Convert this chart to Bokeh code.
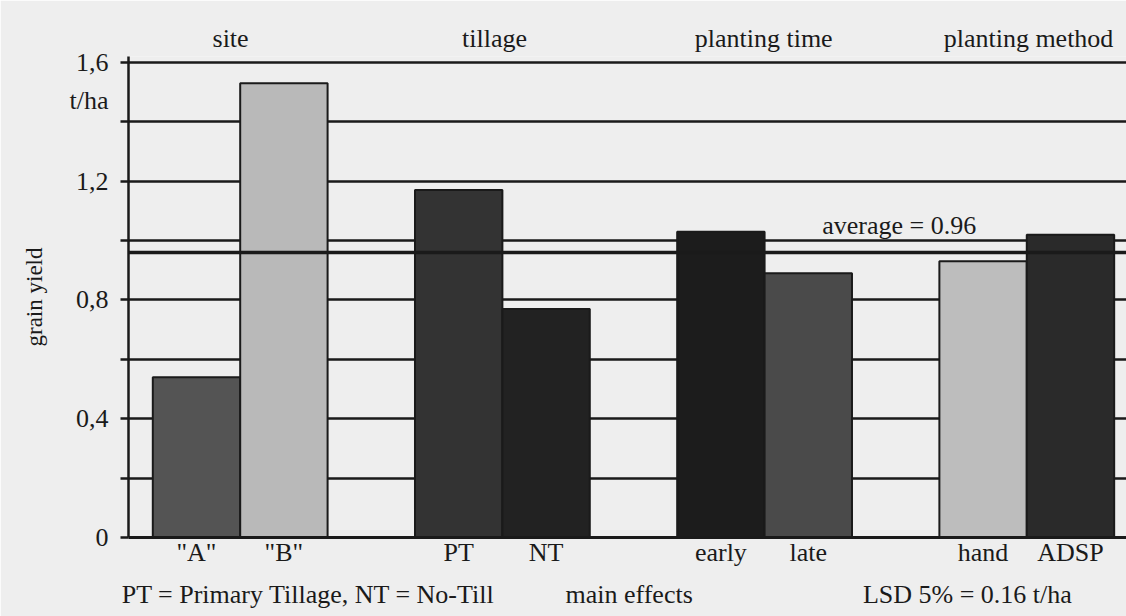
from bokeh.plotting import figure
from bokeh.models import FixedTicker, Span, Label, ColumnDataSource, Range1d, LinearAxis
from bokeh.embed import file_html
from bokeh.resources import INLINE

# ---- data ----
categories = ['"A"', '"B"', "PT", "NT", "early", "late", "hand", "ADSP"]
positions = [0, 1, 3, 4, 6, 7, 9, 10]
yields = [0.54, 1.53, 1.17, 0.77, 1.03, 0.89, 0.93, 1.02]
bar_colors = ["#545454", "#b9b9b9", "#333333", "#222222", "#1c1c1c", "#4a4a4a", "#bdbdbd", "#2a2a2a"]
groups = ["site", "tillage", "planting time", "planting method"]
group_label_x = [0.39, 3.41, 6.49, 9.52]
notes = ["PT = Primary Tillage, NT = No-Till", "main effects", "LSD 5% = 0.16 t/ha"]
note_x = [1.28, 4.95, 8.82]
average = 0.96
y_ticks = [0, 0.2, 0.4, 0.6, 0.8, 1.0, 1.2, 1.4, 1.6]
y_label_ticks = [0, 0.4, 0.8, 1.2, 1.6]
y_label_text = ["0", "0,4", "0,8", "1,2", "1,6"]
unit_label = "t/ha"
unit_y = 1.472

FONT = "Liberation Serif"
BG = "#eeeeee"
INK = "#1a1a1a"
FS = "26px"

p = figure(width=1126, height=616, output_backend="svg", toolbar_location=None,
           x_range=Range1d(-0.778, 10.641), y_range=Range1d(0, 1.62),
           min_border_left=128, min_border_right=0, min_border_top=56, min_border_bottom=79)
p.background_fill_color = BG
p.border_fill_color = BG
p.outline_line_color = None

# grid
p.xgrid.visible = False
p.ygrid.ticker = FixedTicker(ticks=y_ticks)
p.ygrid.grid_line_color = INK
p.ygrid.grid_line_width = 2.5

src = ColumnDataSource(dict(x=positions, top=yields, color=bar_colors))
p.vbar(x="x", top="top", width=1.0, bottom=0, fill_color="color", line_color=INK, line_width=2, source=src)

p.add_layout(Span(location=average, dimension="width", line_color=INK, line_width=3.5))

# inner y axis: line and ticks only
ya = p.yaxis[0]
ya.ticker = FixedTicker(ticks=y_ticks)
ya.major_label_overrides = {t: "" for t in y_ticks}
ya.major_label_standoff = 0
ya.axis_line_width = 2.5
ya.axis_line_color = INK
ya.major_tick_line_width = 2.5
ya.major_tick_line_color = INK
ya.major_tick_out = 8
ya.major_tick_in = 0
ya.minor_tick_line_color = None

# outer y axis: labels
yb = LinearAxis(ticker=FixedTicker(ticks=y_label_ticks + [unit_y]),
                major_label_overrides={**dict(zip(y_label_ticks, y_label_text)), unit_y: unit_label})
yb.axis_line_color = None
yb.major_tick_line_color = None
yb.minor_tick_line_color = None
yb.major_tick_out = 0
yb.major_tick_in = 0
yb.major_label_standoff = 12
yb.major_label_text_font = FONT
yb.major_label_text_font_size = FS
yb.major_label_text_color = INK
yb.axis_label = "grain yield"
yb.axis_label_text_font = FONT
yb.axis_label_text_font_style = "normal"
yb.axis_label_text_font_size = "23px"
yb.axis_label_text_color = INK
yb.axis_label_standoff = 20
p.add_layout(yb, "left")

# x axis: categories
xa = p.xaxis[0]
xa.ticker = FixedTicker(ticks=positions)
xa.major_label_overrides = dict(zip(positions, categories))
xa.axis_line_width = 3
xa.axis_line_color = INK
xa.major_tick_line_color = None
xa.minor_tick_line_color = None
xa.major_label_text_font = FONT
xa.major_label_text_font_size = FS
xa.major_label_text_color = INK
xa.major_label_standoff = -6

# second bottom axis: notes
xb = LinearAxis(ticker=FixedTicker(ticks=note_x), major_label_overrides=dict(zip(note_x, notes)))
xb.axis_line_color = None
xb.major_tick_line_color = None
xb.minor_tick_line_color = None
xb.major_tick_out = 0
xb.major_tick_in = 0
xb.major_label_standoff = 10
xb.major_label_text_font = FONT
xb.major_label_text_font_size = FS
xb.major_label_text_color = INK
p.add_layout(xb, "below")

# top axis: group names
xt = LinearAxis(ticker=FixedTicker(ticks=group_label_x), major_label_overrides=dict(zip(group_label_x, groups)))
xt.axis_line_color = None
xt.major_tick_line_color = None
xt.minor_tick_line_color = None
xt.major_tick_out = 0
xt.major_tick_in = 0
xt.major_label_standoff = 4
xt.major_label_text_font = FONT
xt.major_label_text_font_size = FS
xt.major_label_text_color = INK
p.add_layout(xt, "above")

p.add_layout(Label(x=8.04, y=1.003, text="average = " + str(average), text_font=FONT, text_font_size=FS,
                   text_color=INK, text_align="center", text_baseline="bottom"))

open("out.html", "w").write(file_html(p, INLINE))
